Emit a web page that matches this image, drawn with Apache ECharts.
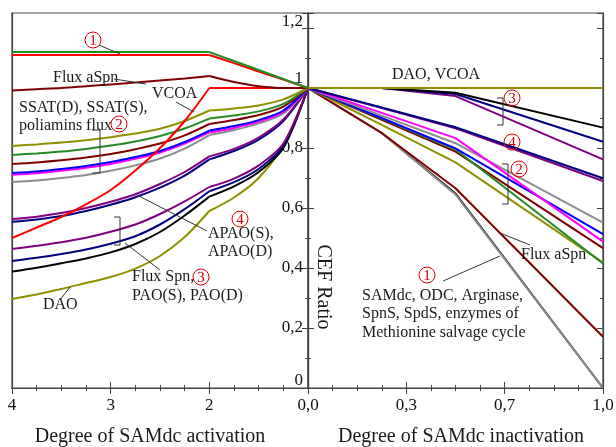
<!DOCTYPE html>
<html>
<head>
<meta charset="utf-8">
<script src="https://cdn.jsdelivr.net/npm/echarts@6/dist/echarts.min.js"></script>
<style>
  html, body { margin: 0; padding: 0; background: #fff; }
  #chart { width: 616px; height: 447px; }
</style>
</head>
<body>
<div id="chart"></div>
<script>
// positions along the two x axes (equally spaced ticks)
const leftPos = [0, 0.25, 0.5, 0.75, 1, 1.25, 1.5, 1.75, 2, 2.25, 2.5, 2.75, 3];
const rightPos = [0, 0.75, 1.5, 3];
const leftTicks = ['4', '3', '2'];
const rightTicks = ['0,0', '0,3', '0,7', '1,0'];
const yTicks = ['0', '0,2', '0,4', '0,6', '0,8', '1', '1,2'];
const KNEE = 8; // index of the "2" point on the left axis

// left panel: SAMdc activation
const lGreen1   = [1.12, 1.12, 1.12, 1.12, 1.12, 1.12, 1.12, 1.12, 1.12, 1.09, 1.06, 1.03, 1];
const lRed1     = [1.11, 1.11, 1.11, 1.11, 1.11, 1.11, 1.11, 1.11, 1.11, 1.083, 1.055, 1.028, 1];
const lFluxASpn = [0.992, 0.996, 1.0, 1.006, 1.012, 1.018, 1.025, 1.032, 1.04, 1.02, 1.006, 1.0, 1.0];
const lVcoa     = [0.5, 0.535, 0.57, 0.612, 0.66, 0.725, 0.8, 0.89, 1, 1, 1, 1, 1];
const lOlive2   = [0.807, 0.812, 0.818, 0.826, 0.836, 0.848, 0.864, 0.89, 0.925, 0.932, 0.942, 0.962, 1];
const lGreen2   = [0.777, 0.782, 0.788, 0.797, 0.808, 0.822, 0.84, 0.865, 0.898, 0.908, 0.922, 0.947, 1];
const lDarkred2 = [0.747, 0.752, 0.759, 0.768, 0.78, 0.796, 0.815, 0.842, 0.88, 0.893, 0.91, 0.938, 1];
const lBlue2    = [0.717, 0.722, 0.73, 0.74, 0.753, 0.77, 0.79, 0.82, 0.858, 0.873, 0.893, 0.925, 1];
const lMagenta2 = [0.711, 0.716, 0.724, 0.734, 0.747, 0.764, 0.785, 0.815, 0.852, 0.867, 0.888, 0.92, 1];
const lGray2    = [0.687, 0.692, 0.7, 0.71, 0.724, 0.742, 0.765, 0.798, 0.843, 0.86, 0.882, 0.915, 1];
const lPurple4  = [0.563, 0.571, 0.583, 0.6, 0.621, 0.646, 0.68, 0.72, 0.772, 0.797, 0.835, 0.895, 1];
const lNavy4    = [0.554, 0.562, 0.573, 0.59, 0.611, 0.636, 0.668, 0.708, 0.762, 0.79, 0.828, 0.89, 1];
const lPurple3  = [0.463, 0.474, 0.486, 0.501, 0.521, 0.545, 0.58, 0.622, 0.67, 0.698, 0.742, 0.815, 1];
const lNavy3    = [0.423, 0.434, 0.447, 0.462, 0.481, 0.506, 0.545, 0.596, 0.656, 0.686, 0.73, 0.808, 1];
const lBlack3   = [0.388, 0.401, 0.416, 0.432, 0.452, 0.48, 0.52, 0.575, 0.638, 0.672, 0.72, 0.8, 1];
const lDao      = [0.297, 0.312, 0.33, 0.35, 0.37, 0.398, 0.44, 0.503, 0.59, 0.635, 0.7, 0.81, 1];

// right panel: SAMdc inactivation
const rDaoVcoa  = [1, 1, 1, 1];
const rBlack3   = [1, 1, 0.984, 0.868];
const rNavy3    = [1, 1, 0.98, 0.821];
const rPurple3  = [1, 1, 0.973, 0.762];
const rNavy4    = [1, 0.935, 0.869, 0.699];
const rPurple4  = [1, 0.933, 0.866, 0.69];
const rMagenta2 = [1, 0.917, 0.833, 0.488];
const rGray2    = [1, 0.908, 0.816, 0.551];
const rBlue2    = [1, 0.9, 0.799, 0.513];
const rGreen2   = [1, 0.898, 0.795, 0.415];
const rDarkred2 = [1, 0.894, 0.788, 0.466];
const rOlive2   = [1, 0.877, 0.752, 0.418];
const rDarkred1 = [1, 0.85, 0.666, 0.171];
const rBlack1   = [1, 0.85, 0.648, 0];
const rGray1    = [1, 0.85, 0.645, 0];

const C = {
  green: '#228b22', red: '#ff0000', darkred: '#800000', olive: '#8f8f00',
  blue: '#0000ff', magenta: '#ff00ff', gray: '#8c8c8c', purple: '#800080',
  navy: '#000080', black: '#000000'
};

const FONT = '"Liberation Serif", "Times New Roman", serif';
const AX = '#444';

function mk(pts, color, idx, smooth) {
  return {
    type: 'line', xAxisIndex: idx, yAxisIndex: idx, data: pts,
    showSymbol: false, symbol: 'none', silent: true, smooth: smooth,
    lineStyle: { color: color, width: 2 }, z: 3
  };
}

// left curves are drawn in two smooth pieces that meet at the knee
function line(vals, color, side) {
  if (side === 'R') {
    return [mk(rightPos.map((p, i) => [p, vals[i]]), color, 2, false)];
  }
  const pts = leftPos.map((p, i) => [p, vals[i]]);
  return [
    mk(pts.slice(0, KNEE + 1), color, 0, 0.3),
    mk(pts.slice(KNEE), color, 0, 0.3)
  ];
}

function xAx(grid, pos, labels) {
  return {
    type: 'value', gridIndex: grid, position: pos, min: 0, max: 3, interval: 1,
    axisLine: { show: true, lineStyle: { color: AX, width: 1.2 } },
    axisTick: { show: true, inside: true, length: 6, lineStyle: { color: AX } },
    minorTick: { show: true, splitNumber: 4, length: 3, lineStyle: { color: AX } },
    splitLine: { show: false },
    axisLabel: labels ? {
      show: true, margin: 9, fontFamily: FONT, fontSize: 17, color: '#111',
      formatter: v => labels[Math.round(v)] || ''
    } : { show: false }
  };
}

function yAx(grid, pos, labels, ticks) {
  return {
    type: 'value', gridIndex: grid, position: pos, min: 0, max: 1.25, interval: 0.2,
    axisLine: { show: true, onZero: false, lineStyle: { color: AX, width: 1.2 } },
    axisTick: { show: ticks, inside: true, length: 6, lineStyle: { color: AX } },
    minorTick: { show: ticks, splitNumber: 2, length: 3, lineStyle: { color: AX } },
    splitLine: { show: false },
    axisLabel: labels ? {
      show: true, inside: true, margin: 5, fontFamily: FONT, fontSize: 17, color: '#111',
      formatter: v => {
        const k = Math.round(v / 0.2);
        if (Math.abs(v / 0.2 - k) > 1e-6) return '';
        const t = yTicks[k];
        if (k === 6) return '{a|' + t + '}';
        if (k === 5) return '{b|' + t + '}';
        if (k === 0) return '{c|' + t + '}';
        return t;
      },
      rich: {
        a: { fontFamily: FONT, fontSize: 17, color: '#111', padding: [0, 0, 12, 0] },
        b: { fontFamily: FONT, fontSize: 17, color: '#111', padding: [0, 0, 18, 0] },
        c: { fontFamily: FONT, fontSize: 17, color: '#111', padding: [0, 0, 14, 0] }
      }
    } : { show: false }
  };
}

function txt(x, y, s, size, align, extra) {
  return Object.assign({
    type: 'text', x: x, y: y, silent: true, z: 10,
    style: { text: s, font: (size || 16) + 'px ' + FONT, fill: '#1a1a1a', align: align || 'left', verticalAlign: 'middle' }
  }, extra || {});
}
function seg(pts) {
  return { type: 'polyline', silent: true, z: 10, shape: { points: pts }, style: { stroke: '#333', fill: null, lineWidth: 1 } };
}
function circ(x, y, n) {
  return [
    { type: 'circle', silent: true, z: 10, shape: { cx: x, cy: y, r: 8 }, style: { fill: 'none', stroke: '#e00000', lineWidth: 1 } },
    { type: 'text', x: x, y: y + 1, silent: true, z: 11,
      style: { text: String(n), font: '15px ' + FONT, fill: '#d00000', align: 'center', verticalAlign: 'middle' } }
  ];
}

const graphics = [].concat(
  // left panel annotations
  circ(93, 40, 1), [seg([[99, 45], [120, 54]])],
  [txt(53, 78, 'Flux aSpn'), seg([[114, 79], [146, 84]])],
  [txt(152, 94, 'VCOA'), seg([[176, 102], [194, 112]])],
  [txt(19, 108, 'SSAT(D), SSAT(S),'), txt(19, 126, 'poliamins flux')], circ(119, 124, 2),
  [seg([[92, 130], [100, 130], [100, 173], [92, 173]])],
  circ(240, 219, 4),
  [txt(208, 234, 'APAO(S),'), txt(208, 252, 'APAO(D)'), seg([[137, 195], [207, 231]])],
  [seg([[114, 217], [120, 217], [120, 245], [114, 245]]), seg([[125, 243], [160, 270]])],
  [txt(132, 277, 'Flux Spn,'), txt(132, 296, 'PAO(S), PAO(D)')], circ(201, 277, 3),
  [txt(43, 305, 'DAO'), seg([[60, 300], [70, 287]])],
  // right panel annotations
  [txt(392, 75, 'DAO, VCOA')],
  circ(512, 98, 3), [seg([[497, 98], [503, 98], [503, 125], [497, 125]])],
  circ(512, 142, 4),
  circ(519, 169, 2), [seg([[502, 164], [508, 164], [508, 204], [502, 204]])],
  [txt(521, 255, 'Flux aSpn'), seg([[500, 233], [530, 245]])],
  circ(427, 275, 1), [seg([[443, 281], [500, 256]])],
  [txt(362, 296, 'SAMdc, ODC, Arginase,'), txt(362, 314, 'SpnS, SpdS, enzymes of'), txt(362, 333, 'Methionine salvage cycle')],
  // axis titles
  [
    txt(323, 287, 'CEF Ratio', 20, 'center', { rotation: -Math.PI / 2 }),
    txt(150, 437, 'Degree of SAMdc activation', 20, 'center'),
    txt(461, 437, 'Degree of SAMdc inactivation', 20, 'center')
  ]
);

const chart = echarts.init(document.getElementById('chart'), null, { renderer: 'canvas' });

const leftLines = [
  [lDao, C.olive], [lBlack3, C.black], [lNavy3, C.navy], [lPurple3, C.purple],
  [lNavy4, C.navy], [lPurple4, C.purple], [lGray2, C.gray], [lMagenta2, C.magenta],
  [lBlue2, C.blue], [lDarkred2, C.darkred], [lGreen2, C.green], [lOlive2, C.olive],
  [lVcoa, C.red], [lFluxASpn, C.darkred], [lRed1, C.red], [lGreen1, C.green]
];
const rightLines = [
  [rBlack1, C.black], [rGray1, C.gray], [rDarkred1, C.darkred],
  [rOlive2, C.olive], [rDarkred2, C.darkred], [rGreen2, C.green], [rBlue2, C.blue],
  [rGray2, C.gray], [rMagenta2, C.magenta], [rPurple4, C.purple], [rNavy4, C.navy],
  [rPurple3, C.purple], [rNavy3, C.navy], [rBlack3, C.black], [rDaoVcoa, C.olive]
];

const series = [];
leftLines.forEach(([v, c]) => series.push(...line(v, c, 'L')));
rightLines.forEach(([v, c]) => series.push(...line(v, c, 'R')));

chart.setOption({
  animation: false,
  backgroundColor: '#fff',
  grid: [
    { left: 12, top: 13, width: 296, height: 375, outerBoundsMode: 'none', containLabel: false,
      show: true, borderColor: AX, borderWidth: 1.2, backgroundColor: 'transparent' },
    { left: 308, top: 13, width: 295, height: 375, outerBoundsMode: 'none', containLabel: false,
      show: true, borderColor: AX, borderWidth: 1.2, backgroundColor: 'transparent' }
  ],
  xAxis: [
    xAx(0, 'bottom', leftTicks),
    xAx(0, 'top', null),
    xAx(1, 'bottom', rightTicks),
    xAx(1, 'top', null)
  ],
  yAxis: [
    yAx(0, 'right', true, true),
    yAx(0, 'left', false, false),
    yAx(1, 'left', false, true),
    yAx(1, 'right', false, true)
  ],
  series: series,
  graphic: graphics
});

window.addEventListener('resize', () => chart.resize());
</script>
</body>
</html>
